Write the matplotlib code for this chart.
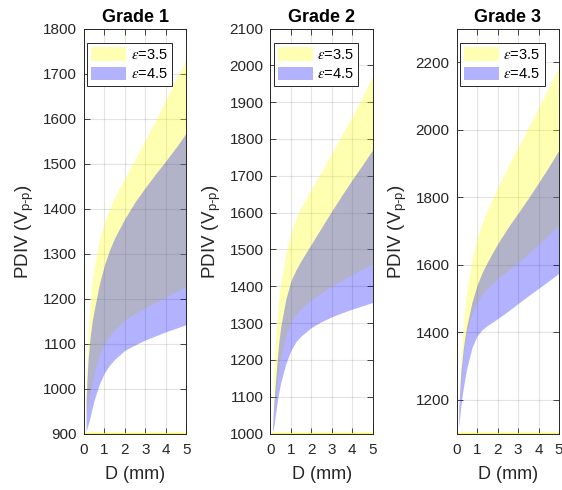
import matplotlib
matplotlib.use('Agg')
import matplotlib.pyplot as plt
import numpy as np

plt.rcParams['font.family'] = ['Liberation Sans', 'DejaVu Sans']
plt.rcParams['mathtext.fontset'] = 'custom'
plt.rcParams['mathtext.rm'] = 'Liberation Sans'
plt.rcParams['mathtext.it'] = 'STIXGeneral:italic'
plt.rcParams['mathtext.bf'] = 'Liberation Sans:bold'

# D (mm) sample points
D = [0.1, 0.15, 0.2, 0.3, 0.4, 0.5, 0.75, 1, 1.25, 1.5, 2, 2.5, 3, 3.5, 4, 4.5, 5]

# grade 1: eps=3.5 band (low/high), eps=4.5 band (low/high)
g1_e35_lo = [935, 950, 965, 990, 1012, 1035, 1075, 1100, 1118, 1130, 1152, 1167, 1180, 1192, 1203, 1215, 1226]
g1_e35_hi = [1000, 1075, 1130, 1195, 1240, 1272, 1330, 1370, 1400, 1425, 1468, 1510, 1553, 1596, 1642, 1688, 1733]
g1_e45_lo = [905, 912, 920, 937, 957, 975, 1010, 1035, 1052, 1065, 1085, 1097, 1108, 1117, 1126, 1134, 1142]
g1_e45_hi = [975, 1025, 1065, 1115, 1150, 1175, 1232, 1275, 1308, 1335, 1378, 1415, 1447, 1477, 1506, 1536, 1568]

# grade 2
g2_e35_lo = [1020, 1050, 1080, 1130, 1175, 1210, 1265, 1303, 1325, 1340, 1363, 1383, 1401, 1416, 1432, 1447, 1462]
g2_e35_hi = [1030, 1150, 1215, 1305, 1365, 1410, 1490, 1545, 1585, 1615, 1665, 1712, 1762, 1812, 1862, 1915, 1972]
g2_e45_lo = [1005, 1015, 1035, 1075, 1110, 1138, 1190, 1226, 1250, 1265, 1288, 1304, 1317, 1328, 1338, 1347, 1356]
g2_e45_hi = [1020, 1070, 1110, 1180, 1245, 1290, 1365, 1415, 1445, 1470, 1515, 1560, 1605, 1648, 1690, 1730, 1771]

# grade 3
g3_e35_lo = [1150, 1205, 1250, 1320, 1365, 1400, 1455, 1490, 1513, 1530, 1560, 1583, 1607, 1633, 1660, 1689, 1718]
g3_e35_hi = [1160, 1250, 1320, 1405, 1470, 1525, 1615, 1680, 1725, 1762, 1828, 1890, 1948, 2006, 2065, 2126, 2187]
g3_e45_lo = [1120, 1150, 1180, 1225, 1262, 1295, 1355, 1390, 1408, 1420, 1440, 1462, 1485, 1508, 1530, 1552, 1575]
g3_e45_hi = [1170, 1230, 1280, 1340, 1385, 1420, 1490, 1540, 1578, 1608, 1662, 1710, 1753, 1797, 1843, 1890, 1940]

titles = ['Grade 1', 'Grade 2', 'Grade 3']
ylims = [(900, 1800), (1000, 2100), (1100, 2300)]
yticks = [np.arange(900, 1801, 100), np.arange(1000, 2101, 100), np.arange(1200, 2201, 200)]
bands = [
    (g1_e35_lo, g1_e35_hi, g1_e45_lo, g1_e45_hi),
    (g2_e35_lo, g2_e35_hi, g2_e45_lo, g2_e45_hi),
    (g3_e35_lo, g3_e35_hi, g3_e45_lo, g3_e45_hi),
]
lefts = [0.1495, 0.4813, 0.8126]

dark = (0.15, 0.15, 0.15)
fig = plt.figure(figsize=(5.62, 4.9), dpi=100)

for i in range(3):
    ax = fig.add_axes([lefts[i], 0.1153, 0.1820, 0.8265])
    lo35, hi35, lo45, hi45 = bands[i]
    ax.fill_between(D, lo35, hi35, color=(1, 1, 0), alpha=0.3, linewidth=0, label='$\\epsilon$=3.5')
    ax.fill_between(D, lo45, hi45, color=(0, 0, 1), alpha=0.3, linewidth=0, label='$\\epsilon$=4.5')
    ax.axhline(ylims[i][0], color=(1, 1, 0), lw=1.2, xmin=0.02, zorder=1)

    ax.set_xlim(0, 5)
    ax.set_ylim(*ylims[i])
    ax.set_xticks(range(6))
    ax.set_yticks(yticks[i])
    ax.grid(True, color=dark, alpha=0.12, lw=0.8)
    ax.set_axisbelow(True)
    ax.tick_params(direction='in', top=True, right=True, length=4, width=0.6,
                   colors=dark, labelsize=11, pad=5)
    ax.tick_params(axis='x', pad=7)
    for s in ax.spines.values():
        s.set_color(dark)
        s.set_linewidth(0.7)

    ax.set_title(titles[i], fontsize=13, fontweight='bold', pad=5)
    ax.set_xlabel('D (mm)', fontsize=13, color=dark, labelpad=6)
    ax.set_ylabel('PDIV (V$_{\\mathrm{p\\text{-}p}}$)', fontsize=13.5, color=dark, labelpad=5)

    leg = ax.legend(loc='upper left', bbox_to_anchor=(0.03, 0.964), borderaxespad=0,
                    fontsize=10.5, fancybox=False, framealpha=1, edgecolor=dark,
                    handlelength=2.4, handleheight=1.05, handletextpad=0.3,
                    labelspacing=0.3, borderpad=0.3)
    leg.get_frame().set_linewidth(0.7)

fig.savefig('out.png', dpi=100)
